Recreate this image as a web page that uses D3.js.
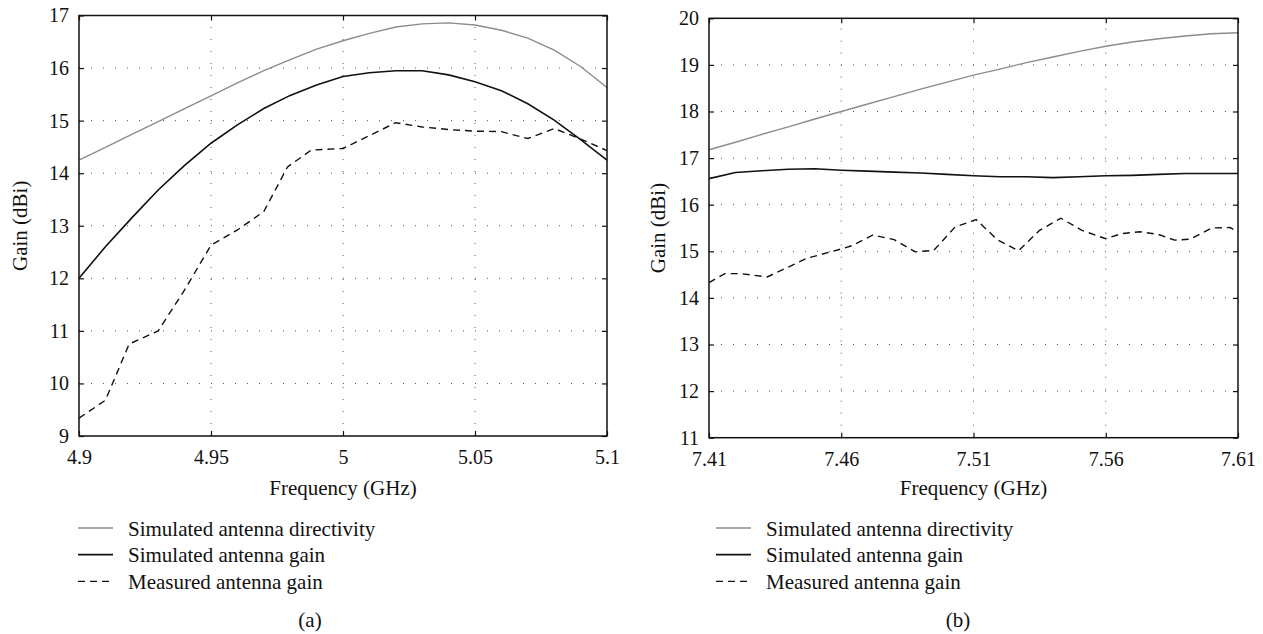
<!DOCTYPE html>
<meta charset="utf-8">
<style>
body { margin: 0; background: #fff; }
svg text { font-family: "Liberation Serif", "Times New Roman", serif; fill: #111; }
.grid line { stroke: #555; stroke-width: 1; stroke-dasharray: 1,11; }
.tickAxis .domain { display: none; }
.tickAxis line { stroke: #111; stroke-width: 1.2; }
.tickAxis text { font-size: 20px; }
.frame { fill: none; stroke: #111; stroke-width: 1.5; }
</style>
<svg id="fig" width="1263" height="634"></svg>
<script src="https://d3js.org/d3.v7.min.js"></script>
<script>

// ---- panel (a) data ----
var freqA = [4.90,4.91,4.92,4.93,4.94,4.95,4.96,4.97,4.98,4.99,5.00,5.01,5.02,5.03,5.04,5.05,5.06,5.07,5.08,5.09,5.10];
var directivityA = [14.25,14.49,14.74,14.98,15.23,15.47,15.72,15.95,16.16,16.36,16.52,16.66,16.78,16.84,16.86,16.82,16.72,16.57,16.34,16.03,15.63];
var gainA = [12.0,12.6,13.15,13.68,14.15,14.57,14.92,15.23,15.48,15.68,15.84,15.91,15.95,15.95,15.87,15.74,15.57,15.32,15.01,14.64,14.25];
var measFreqA = [4.900,4.910,4.919,4.930,4.940,4.950,4.960,4.970,4.979,4.988,5.000,5.020,5.030,5.040,5.050,5.060,5.070,5.080,5.090,5.100];
var measuredA = [9.34,9.68,10.75,11.0,11.78,12.63,12.92,13.27,14.12,14.44,14.47,14.96,14.88,14.83,14.80,14.79,14.66,14.85,14.65,14.43];
var xTicksA = [4.9,4.95,5.0,5.05,5.1];
var xTickLabelsA = ["4.9","4.95","5","5.05","5.1"];
var yTicksA = [9,10,11,12,13,14,15,16,17];

// ---- panel (b) data ----
var freqB = [7.41,7.42,7.43,7.44,7.45,7.46,7.47,7.48,7.49,7.50,7.51,7.52,7.53,7.54,7.55,7.56,7.57,7.58,7.59,7.60,7.61];
var directivityB = [17.18,17.34,17.51,17.67,17.84,18.0,18.16,18.32,18.48,18.63,18.78,18.91,19.05,19.17,19.29,19.40,19.49,19.56,19.62,19.67,19.69];
var gainB = [16.56,16.69,16.73,16.76,16.77,16.74,16.72,16.70,16.68,16.65,16.62,16.60,16.60,16.58,16.60,16.62,16.63,16.65,16.67,16.67,16.67];
var measFreqB = [7.410,7.416,7.422,7.432,7.447,7.460,7.464,7.472,7.480,7.488,7.495,7.503,7.511,7.519,7.527,7.535,7.543,7.551,7.560,7.566,7.573,7.580,7.586,7.592,7.600,7.607,7.610];
var measuredB = [14.33,14.52,14.52,14.45,14.85,15.05,15.12,15.35,15.25,14.99,15.02,15.52,15.68,15.25,15.01,15.45,15.71,15.45,15.27,15.38,15.42,15.36,15.24,15.26,15.50,15.51,15.42];
var xTicksB = [7.41,7.46,7.51,7.56,7.61];
var xTickLabelsB = ["7.41","7.46","7.51","7.56","7.61"];
var yTicksB = [11,12,13,14,15,16,17,18,19,20];

var legendNames = ["Simulated antenna directivity","Simulated antenna gain","Measured antenna gain"];

var svg = d3.select("#fig");

function drawPanel(p) {
  var x = d3.scaleLinear().domain(p.xDomain).range([p.left, p.right]);
  var y = d3.scaleLinear().domain(p.yDomain).range([p.bottom, p.top]);
  var g = svg.append("g");

  // dotted grid
  var grid = g.append("g").attr("class", "grid");
  grid.selectAll(".gx").data(p.xTicks.slice(1, -1)).enter().append("line")
    .attr("x1", function(d){ return x(d); }).attr("x2", function(d){ return x(d); })
    .attr("y1", p.bottom).attr("y2", p.top);
  grid.selectAll(".gy").data(p.yTicks.slice(1, -1)).enter().append("line")
    .attr("y1", function(d){ return y(d); }).attr("y2", function(d){ return y(d); })
    .attr("x1", p.left).attr("x2", p.right);

  // curves
  var line = d3.line().x(function(d){ return x(d[0]); }).y(function(d){ return y(d[1]); });
  g.append("path").datum(d3.zip(p.freq, p.directivity))
    .attr("d", line).attr("fill", "none").attr("stroke", "#8c8c8c").attr("stroke-width", 1.4);
  g.append("path").datum(d3.zip(p.freq, p.gain))
    .attr("d", line).attr("fill", "none").attr("stroke", "#111").attr("stroke-width", 1.6);
  g.append("path").datum(d3.zip(p.measFreq, p.measured))
    .attr("d", line).attr("fill", "none").attr("stroke", "#111").attr("stroke-width", 1.4)
    .attr("stroke-dasharray", "7,5");

  // axes with inward ticks on all sides
  g.append("g").attr("class", "tickAxis").attr("transform", "translate(0," + p.bottom + ")")
    .call(d3.axisBottom(x).tickValues(p.xTicks).tickSizeInner(-5).tickSizeOuter(0).tickPadding(14)
      .tickFormat(function(d, i){ return p.xTickLabels[i]; }));
  g.append("g").attr("class", "tickAxis").attr("transform", "translate(0," + p.top + ")")
    .call(d3.axisTop(x).tickValues(p.xTicks).tickSizeInner(-5).tickSizeOuter(0).tickFormat(""));
  g.append("g").attr("class", "tickAxis").attr("transform", "translate(" + p.left + ",0)")
    .call(d3.axisLeft(y).tickValues(p.yTicks).tickSizeInner(-5).tickSizeOuter(0).tickPadding(10)
      .tickFormat(d3.format("d")));
  g.append("g").attr("class", "tickAxis").attr("transform", "translate(" + p.right + ",0)")
    .call(d3.axisRight(y).tickValues(p.yTicks).tickSizeInner(-5).tickSizeOuter(0).tickFormat(""));

  g.append("rect").attr("class", "frame")
    .attr("x", p.left).attr("y", p.top)
    .attr("width", p.right - p.left).attr("height", p.bottom - p.top);

  // axis titles
  g.append("text").attr("x", (p.left + p.right) / 2).attr("y", 495)
    .attr("text-anchor", "middle").style("font-size", "21px").text("Frequency (GHz)");
  g.append("text")
    .attr("transform", "translate(" + p.yLabelX + "," + ((p.top + p.bottom) / 2) + ") rotate(-90)")
    .attr("text-anchor", "middle").style("font-size", "21px").text("Gain (dBi)");

  // legend
  var styles = [
    {stroke: "#8c8c8c", width: 1.4, dash: null},
    {stroke: "#111", width: 1.8, dash: null},
    {stroke: "#111", width: 1.4, dash: "7,5"}
  ];
  var leg = g.append("g").attr("transform", "translate(" + p.legendX + ",0)");
  legendNames.forEach(function(name, i) {
    var ly = 528 + i * 26.7;
    leg.append("line").attr("x1", 0).attr("x2", 35).attr("y1", ly).attr("y2", ly)
      .attr("stroke", styles[i].stroke).attr("stroke-width", styles[i].width)
      .attr("stroke-dasharray", styles[i].dash);
    leg.append("text").attr("x", 50).attr("y", ly + 7.5)
      .style("font-size", "21px").text(name);
  });

  g.append("text").attr("x", p.captionX).attr("y", 627)
    .attr("text-anchor", "middle").style("font-size", "21px").text(p.caption);
}

drawPanel({
  xDomain: [4.9, 5.1], yDomain: [9, 17],
  left: 79, right: 607, top: 15.5, bottom: 436,
  freq: freqA, directivity: directivityA, gain: gainA,
  measFreq: measFreqA, measured: measuredA,
  xTicks: xTicksA, xTickLabels: xTickLabelsA, yTicks: yTicksA,
  yLabelX: 27, legendX: 78, captionX: 310, caption: "(a)"
});

drawPanel({
  xDomain: [7.41, 7.61], yDomain: [11, 20],
  left: 709, right: 1238, top: 18.3, bottom: 437.7,
  freq: freqB, directivity: directivityB, gain: gainB,
  measFreq: measFreqB, measured: measuredB,
  xTicks: xTicksB, xTickLabels: xTickLabelsB, yTicks: yTicksB,
  yLabelX: 665, legendX: 716, captionX: 958, caption: "(b)"
});

</script>
